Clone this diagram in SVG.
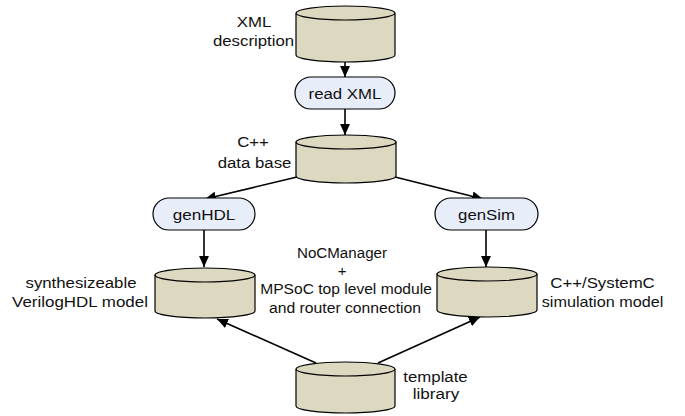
<svg xmlns="http://www.w3.org/2000/svg" width="685" height="416" viewBox="0 0 685 416">
  <style>
    .db { fill: #ddd8c0; stroke: #000; stroke-width: 1.2; }
    .op { fill: #e8eef9; stroke: #000; stroke-width: 1.2; }
    .lbl { font-family: "Liberation Sans", Arial, sans-serif; font-size: 15px; fill: #111; text-anchor: middle; }
    .edge { stroke: #000; stroke-width: 1.6; fill: none; marker-end: url(#arrow); }
  </style>
  <defs>
    <marker id="arrow" viewBox="0 0 10 10" refX="10" refY="5" markerUnits="userSpaceOnUse" markerWidth="11" markerHeight="11" orient="auto">
      <path d="M0,0.5 L10,5 L0,9.5 Z" fill="#000"/>
    </marker>
  </defs>

  <rect width="685" height="416" fill="#fff"/>

  <!-- connectors -->
  <g id="connectors">
    <line class="edge" x1="345" y1="62" x2="345" y2="77"/>
    <line class="edge" x1="345" y1="109" x2="345" y2="135"/>
    <line class="edge" x1="297" y1="177" x2="205" y2="199"/>
    <line class="edge" x1="395" y1="177" x2="483" y2="199"/>
    <line class="edge" x1="204" y1="230" x2="204" y2="267"/>
    <line class="edge" x1="486" y1="230" x2="486" y2="267"/>
    <line class="edge" x1="316" y1="363" x2="217" y2="319"/>
    <line class="edge" x1="378" y1="363" x2="480" y2="317"/>
  </g>

  <!-- XML description store -->
  <g id="xml-description">
    <path class="db" d="M296,13 A49.5,7 0 0 1 395,13 L395,55 A49.5,7 0 0 1 296,55 Z"/>
    <path class="db" d="M296,13 A49.5,7 0 0 0 395,13" fill="none"/>
    <text class="lbl" transform="translate(254,27) scale(1.12,1)">XML</text>
    <text class="lbl" transform="translate(253.5,46) scale(1.12,1)">description</text>
  </g>

  <!-- read XML step -->
  <g id="read-xml">
    <rect class="op" x="295" y="77" width="100" height="32" rx="16"/>
    <text class="lbl" transform="translate(345,99) scale(1.12,1)">read XML</text>
  </g>

  <!-- C++ data base store -->
  <g id="cpp-database">
    <path class="db" d="M296,142 A50,7 0 0 1 396,142 L396,176 A50,7 0 0 1 296,176 Z"/>
    <path class="db" d="M296,142 A50,7 0 0 0 396,142" fill="none"/>
    <text class="lbl" transform="translate(253,147) scale(1.12,1)">C++</text>
    <text class="lbl" transform="translate(254.5,168) scale(1.12,1)">data base</text>
  </g>

  <!-- genHDL step -->
  <g id="gen-hdl">
    <rect class="op" x="153" y="198" width="102" height="32" rx="16"/>
    <text class="lbl" transform="translate(204,220) scale(1.14,1)">genHDL</text>
  </g>

  <!-- genSim step -->
  <g id="gen-sim">
    <rect class="op" x="435" y="198" width="103" height="32" rx="16"/>
    <text class="lbl" transform="translate(486.5,220) scale(1.12,1)">genSim</text>
  </g>

  <!-- VerilogHDL model store -->
  <g id="verilog-model">
    <path class="db" d="M155,275 A50,7 0 0 1 255,275 L255,311 A50,7 0 0 1 155,311 Z"/>
    <path class="db" d="M155,275 A50,7 0 0 0 255,275" fill="none"/>
    <text class="lbl" transform="translate(81,288) scale(1.12,1)">synthesizeable</text>
    <text class="lbl" transform="translate(80,307) scale(1.13,1)">VerilogHDL model</text>
  </g>

  <!-- SystemC model store -->
  <g id="systemc-model">
    <path class="db" d="M437,274 A50,7 0 0 1 537,274 L537,310 A50,7 0 0 1 437,310 Z"/>
    <path class="db" d="M437,274 A50,7 0 0 0 537,274" fill="none"/>
    <text class="lbl" transform="translate(602.5,288) scale(1.12,1)">C++/SystemC</text>
    <text class="lbl" transform="translate(602.5,307) scale(1.08,1)">simulation model</text>
  </g>

  <!-- central note -->
  <g id="nocmanager-note">
    <text class="lbl" transform="translate(342,258) scale(1.01,1)">NoCManager</text>
    <text class="lbl" transform="translate(342,276)">+</text>
    <text class="lbl" transform="translate(346,294) scale(1.04,1)">MPSoC top level module</text>
    <text class="lbl" transform="translate(345,313) scale(1.05,1)">and router connection</text>
  </g>

  <!-- template library store -->
  <g id="template-library">
    <path class="db" d="M296,369 A49.5,7 0 0 1 395,369 L395,406 A49.5,7 0 0 1 296,406 Z"/>
    <path class="db" d="M296,369 A49.5,7 0 0 0 395,369" fill="none"/>
    <text class="lbl" transform="translate(435.5,382) scale(1.12,1)">template</text>
    <text class="lbl" transform="translate(436,399) scale(1.14,1)">library</text>
  </g>
</svg>
